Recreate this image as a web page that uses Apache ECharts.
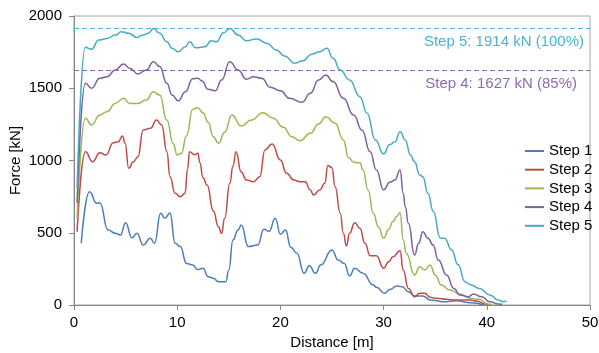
<!DOCTYPE html>
<html>
<head>
<meta charset="utf-8">
<script src="https://cdn.jsdelivr.net/npm/echarts@6/dist/echarts.min.js"></script>
<style>
html,body{margin:0;padding:0;background:#fff;}
#chart{width:599px;height:353px;}
</style>
</head>
<body>
<div id="chart"></div>
<script>
// ---- data: [distance m, force kN] ----
var seriesNames = ['Step 1', 'Step 2', 'Step 3', 'Step 4', 'Step 5'];

var step1 = [[0.7,427],[1.5,784],[2.2,704],[2.5,708],[3.3,519],[4.0,496],[4.5,484],[5.0,570],[5.6,465],[6.1,496],[6.7,415],[7.4,462],[7.8,427],[8.4,635],[8.8,600],[9.3,637],[9.8,427],[10.3,404],[10.9,288],[11.5,277],[12.0,245],[12.5,254],[13.0,196],[13.5,185],[14.0,161],[14.7,161],[15.0,242],[15.4,450],[15.9,519],[16.2,554],[16.9,404],[17.8,415],[18.4,525],[18.9,510],[19.5,600],[20.0,490],[20.5,519],[21.0,400],[21.6,358],[22.3,219],[22.8,272],[23.4,219],[23.9,277],[25.0,381],[25.6,311],[26.2,288],[26.7,201],[27.2,254],[28.0,219],[29.0,138],[29.3,122],[30.1,81],[30.6,108],[31.3,131],[31.8,127],[32.4,92],[33.0,62],[33.8,62],[34.5,35],[35.8,23],[37.1,30],[38.4,16],[39.7,0]];

var step2 = [[0.3,507],[1.1,1061],[1.8,992],[2.5,1054],[3.1,1038],[3.8,1123],[4.3,1130],[4.7,1170],[4.95,1119],[5.3,946],[5.75,992],[6.2,1026],[6.7,1211],[7.4,1223],[8.0,1280],[8.5,1246],[9.0,1060],[9.3,888],[9.8,773],[10.3,750],[10.76,773],[11.0,940],[11.2,1061],[11.7,1040],[12.0,1050],[12.2,985],[12.5,880],[12.9,830],[13.5,650],[14.0,542],[14.3,496],[14.6,600],[15.1,842],[15.4,960],[15.7,1061],[16.2,920],[16.7,865],[17.4,853],[18.0,888],[18.5,1073],[19.2,1114],[20.0,1003],[20.6,911],[21.3,865],[21.9,853],[22.4,853],[22.9,796],[23.2,761],[23.8,796],[24.3,842],[24.6,965],[25.0,950],[25.3,819],[25.8,635],[26.1,496],[26.4,408],[26.7,496],[27.2,570],[27.7,531],[28.2,427],[28.7,340],[29.3,340],[30.0,254],[30.5,300],[30.9,334],[31.6,375],[31.9,242],[32.4,115],[33.0,57],[33.5,81],[34.0,81],[34.5,53],[35.1,46],[36.1,39],[37.1,35],[38.4,35],[39.0,28],[39.8,7],[40.2,0]];

var step3 = [[0.3,600],[1.1,1292],[1.7,1246],[2.5,1315],[3.2,1338],[4.0,1395],[4.8,1430],[5.4,1395],[6.2,1395],[7.0,1419],[7.7,1476],[8.3,1453],[9.0,1280],[9.6,1119],[10.0,1038],[10.4,1050],[10.9,1170],[11.5,1355],[12.0,1365],[12.5,1330],[13.0,1265],[13.5,1165],[14.0,1120],[14.6,1195],[15.3,1315],[16.2,1239],[17.2,1280],[18.3,1331],[19.3,1292],[20.3,1230],[21.1,1165],[21.9,1137],[22.9,1188],[23.7,1253],[24.4,1303],[25.3,1257],[26.1,1142],[26.6,1020],[27.1,988],[27.7,985],[28.0,934],[28.5,796],[29.0,635],[29.5,540],[30.0,462],[30.5,525],[30.9,577],[31.3,615],[31.6,640],[31.9,450],[32.2,358],[33.0,208],[33.5,265],[34.0,242],[34.5,277],[35.0,208],[35.6,138],[36.4,104],[37.4,76],[38.4,46],[39.3,39],[40.1,7],[40.5,0]];

var step4 = [[0.3,705],[1.1,1534],[1.7,1500],[2.5,1569],[3.2,1580],[4.0,1626],[4.8,1668],[5.4,1638],[6.2,1599],[7.0,1626],[7.7,1684],[8.3,1650],[9.0,1534],[9.5,1453],[10.1,1414],[10.8,1476],[11.5,1565],[12.0,1570],[12.4,1550],[13.0,1493],[13.7,1483],[14.3,1557],[15.1,1684],[15.9,1626],[16.7,1562],[17.4,1580],[18.2,1569],[19.0,1507],[20.0,1483],[20.9,1430],[22.1,1403],[22.9,1465],[23.7,1557],[24.4,1592],[25.1,1546],[26.1,1430],[27.1,1315],[27.9,1211],[28.7,1060],[29.3,935],[30.0,796],[30.6,850],[31.1,865],[31.6,934],[31.9,773],[32.1,680],[32.4,565],[33.0,346],[33.4,427],[33.8,507],[34.3,462],[34.8,415],[35.3,311],[36.1,208],[36.8,115],[37.4,69],[38.2,57],[38.7,76],[39.5,57],[40.3,23],[41.1,7],[41.5,5]];

var step5 = [[0.3,810],[1.1,1783],[1.7,1770],[2.4,1834],[3.2,1845],[4.0,1868],[4.6,1891],[5.3,1880],[6.1,1852],[6.7,1868],[7.2,1880],[7.7,1914],[8.3,1880],[9.0,1822],[9.5,1776],[10.1,1753],[10.8,1788],[11.2,1822],[11.8,1780],[12.7,1788],[13.3,1829],[13.8,1822],[14.5,1884],[15.1,1914],[15.9,1868],[16.7,1829],[17.7,1841],[18.7,1811],[19.6,1765],[20.4,1723],[21.4,1673],[22.2,1691],[23.0,1735],[23.8,1753],[24.5,1776],[25.1,1707],[25.8,1626],[26.7,1557],[27.7,1442],[28.4,1327],[29.2,1142],[30.0,1045],[30.6,1110],[31.1,1130],[31.6,1199],[32.1,1142],[32.6,1038],[33.0,992],[33.5,900],[33.8,888],[34.3,773],[34.8,650],[35.5,462],[35.9,462],[36.6,381],[37.2,280],[37.9,160],[38.4,140],[39.3,115],[40.3,69],[41.1,35],[41.6,23],[41.9,28]];

var thresholdValues = [1914, 1627];
var thresholdLabels = ['Step 5: 1914 kN (100%)', 'Step 4: 1627 kN (85%)'];

var xTicks = [0, 10, 20, 30, 40, 50];
var yTicks = [0, 500, 1000, 1500, 2000];

// ---- styling ----
var colors = ['#4a7ebb', '#be4b48', '#98b954', '#7d60a0', '#46aac5'];
var thrColors = ['#4bb4d0', '#8a6cb0'];
var thrDist = [[6, 6], [13, 6]];
var font = '"Liberation Sans", Arial, sans-serif';

var chart = echarts.init(document.getElementById('chart'), null, {renderer: 'canvas'});

var allData = [step1, step2, step3, step4, step5];
var series = allData.map(function (d, i) {
  return {
    name: seriesNames[i],
    type: 'line',
    data: d,
    showSymbol: false,
    smooth: 0.5,
    smoothMonotone: 'x',
    lineStyle: {width: 1.5, color: colors[i]},
    itemStyle: {color: colors[i]},
    z: 2 + i,
    animation: false
  };
});

thresholdValues.forEach(function (v, i) {
  series.push({
    name: 'thr' + i,
    type: 'line',
    data: [],
    silent: true,
    z: 10,
    markLine: {
      silent: true,
      symbol: ['none', 'none'],
      animation: false,
      lineStyle: {type: [5, 3], width: 1.2, color: thrColors[i]},
      label: {
        show: true,
        position: 'insideEndBottom',
        formatter: thresholdLabels[i],
        color: thrColors[i],
        fontSize: 15,
        fontFamily: font,
        distance: thrDist[i]
      },
      data: [{yAxis: v}]
    }
  });
});

chart.setOption({
  animation: false,
  backgroundColor: '#ffffff',
  grid: {left: 74, right: 9, top: 16, bottom: 48, show: true, borderColor: '#a6a6a6', borderWidth: 1, containLabel: false, outerBoundsMode: 'none'},
  legend: {
    data: seriesNames,
    orient: 'vertical',
    left: 520,
    top: 138,
    itemWidth: 19,
    itemHeight: 2,
    itemGap: 2.7,
    icon: 'rect',
    textStyle: {fontSize: 15, fontFamily: font, color: '#000', lineHeight: 16},
    selectedMode: false
  },
  xAxis: {
    type: 'value',
    min: xTicks[0],
    max: xTicks[xTicks.length - 1],
    interval: xTicks[1] - xTicks[0],
    name: 'Distance [m]',
    nameLocation: 'middle',
    nameGap: 30,
    nameMoveOverlap: false,
    nameTextStyle: {fontSize: 15, fontFamily: font, color: '#000'},
    axisLine: {show: true, lineStyle: {color: '#868686', width: 1}},
    axisTick: {show: true, inside: false, length: 5, lineStyle: {color: '#868686'}},
    axisLabel: {fontSize: 15, fontFamily: font, color: '#000', margin: 10, formatter: function (v) { return String(v); }},
    splitLine: {show: false}
  },
  yAxis: {
    type: 'value',
    min: yTicks[0],
    max: yTicks[yTicks.length - 1],
    interval: yTicks[1] - yTicks[0],
    name: 'Force [kN]',
    nameLocation: 'middle',
    nameGap: 51,
    nameMoveOverlap: false,
    nameRotate: 90,
    nameTextStyle: {fontSize: 15, fontFamily: font, color: '#000'},
    axisLine: {show: true, lineStyle: {color: '#868686', width: 1}},
    axisTick: {show: true, inside: false, length: 5, lineStyle: {color: '#868686'}},
    axisLabel: {fontSize: 15, fontFamily: font, color: '#000', margin: 12, formatter: function (v) { return String(v); }},
    splitLine: {show: false}
  },
  series: series
});
</script>
</body>
</html>
